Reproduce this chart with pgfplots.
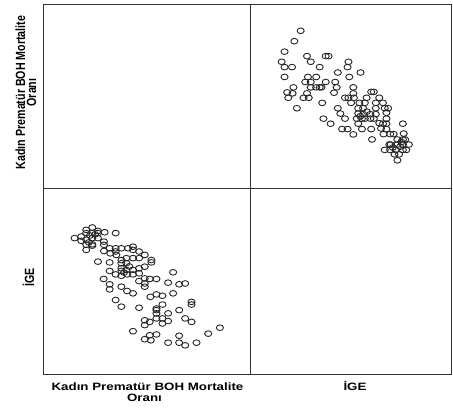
\documentclass[border=0pt]{standalone}
\usepackage{pgfplots}
\pgfplotsset{compat=1.18}
\usepackage{pgfplotstable}
\usepackage{fontspec}
\setmainfont{Liberation Sans}

% m = Kadin Prematur BOH Mortalite Orani, g = IGE
\pgfplotstableread{
m g
6.02 0.812
7.31 0.818
8.28 0.843
9.45 0.852
8.28 0.831
9.45 0.831
10.55 0.839
10.55 0.831
11.84 0.834
13.98 0.831
7.31 0.802
8.28 0.806
9.45 0.812
10.55 0.812
8.28 0.787
9.45 0.789
8.28 0.768
9.45 0.784
11.71 0.799
11.71 0.787
11.71 0.764
12.81 0.774
13.98 0.774
13.98 0.762
15.08 0.774
16.37 0.774
17.34 0.780
17.34 0.768
18.51 0.762
12.94 0.755
10.55 0.724
12.81 0.721
14.11 0.749
15.08 0.730
16.05 0.737
15.08 0.718
16.05 0.718
17.34 0.737
18.51 0.737
19.61 0.749
20.90 0.730
20.90 0.721
12.81 0.689
13.98 0.676
15.08 0.699
15.08 0.689
16.05 0.693
17.34 0.693
18.51 0.699
18.51 0.680
15.08 0.671
16.18 0.676
17.34 0.676
19.61 0.705
19.61 0.661
20.58 0.659
21.88 0.659
11.65 0.659
12.81 0.639
12.81 0.620
15.08 0.630
16.18 0.614
17.34 0.605
18.51 0.651
19.61 0.642
19.61 0.630
25.11 0.684
24.14 0.645
26.28 0.639
27.44 0.642
25.11 0.605
20.71 0.592
21.88 0.601
23.04 0.596
13.98 0.580
15.08 0.555
18.51 0.551
21.88 0.548
23.04 0.563
21.88 0.542
24.14 0.530
26.28 0.542
28.67 0.573
28.67 0.563
19.61 0.504
20.58 0.498
21.88 0.511
23.04 0.511
24.14 0.501
23.04 0.492
19.61 0.486
21.88 0.530
27.44 0.511
28.67 0.498
17.34 0.463
20.58 0.448
21.88 0.451
19.61 0.433
20.78 0.429
24.14 0.420
26.28 0.446
26.28 0.420
27.44 0.410
29.64 0.420
31.91 0.454
34.17 0.476
9.00 0.822
10.00 0.826
15.60 0.683
16.60 0.706
8.80 0.796
}\data

\pgfplotsset{
  spmcell/.style={
    scale only axis,
    anchor=south west,
    xtick=\empty, ytick=\empty,
    xticklabels={}, yticklabels={},
    axis line style={line width=0.9bp, black!80},
    clip=false,
  },
  spmpts/.style={
    only marks, mark=o, mark size=2.85bp,
    mark options={xscale=1.25, line width=0.9bp, draw=black!85},
  },
}

\begin{document}
\begin{tikzpicture}
\useasboundingbox (0bp,0bp) rectangle (453bp,409bp);

% top left (empty)
\begin{axis}[spmcell, at={(43.5bp,221bp)}, width=206.5bp, height=184bp,
    xmin=0, xmax=1, ymin=0, ymax=1]
\end{axis}

% top right: x = IGE, y = mortalite
\begin{axis}[spmcell, at={(250bp,221bp)}, width=201.5bp, height=184bp,
    xmin=0.3, xmax=1.0, ymin=0, ymax=40]
  \addplot[spmpts] table[x=g, y=m] {\data};
\end{axis}

% bottom left: x = mortalite, y = IGE
\begin{axis}[spmcell, at={(43.5bp,34.3bp)}, width=206.5bp, height=186.7bp,
    xmin=0, xmax=40, ymin=0.3, ymax=1.0]
  \addplot[spmpts] table[x=m, y=g] {\data};
\end{axis}

% bottom right (empty)
\begin{axis}[spmcell, at={(250bp,34.3bp)}, width=201.5bp, height=186.7bp,
    xmin=0, xmax=1, ymin=0, ymax=1]
\end{axis}

\tikzset{lab/.style={font=\fontsize{10.7}{11}\selectfont\bfseries, inner sep=0pt}}
\begin{scope}[shift={(147.5bp,18.7bp)}]
  \node[lab, xscale=1.25, anchor=base] at (0,0) {Kadın Prematür BOH Mortalite};
\end{scope}
\begin{scope}[shift={(144.5bp,7.7bp)}]
  \node[lab, xscale=1.25, anchor=base] at (0,0) {Oranı};
\end{scope}
\begin{scope}[shift={(355bp,18.7bp)}]
  \node[lab, xscale=1.25, anchor=base] at (0,0) {İGE};
\end{scope}
\begin{scope}[shift={(25bp,316.5bp)}]
  \node[lab, xscale=1.25, rotate=90, anchor=base] at (0,0) {Kadın Prematür BOH Mortalite};
\end{scope}
\begin{scope}[shift={(36bp,316.5bp)}]
  \node[lab, xscale=1.25, rotate=90, anchor=base] at (0,0) {Oranı};
\end{scope}
\begin{scope}[shift={(34bp,131.5bp)}]
  \node[lab, xscale=1.25, rotate=90, anchor=base] at (0,0) {İGE};
\end{scope}
\end{tikzpicture}
\end{document}
